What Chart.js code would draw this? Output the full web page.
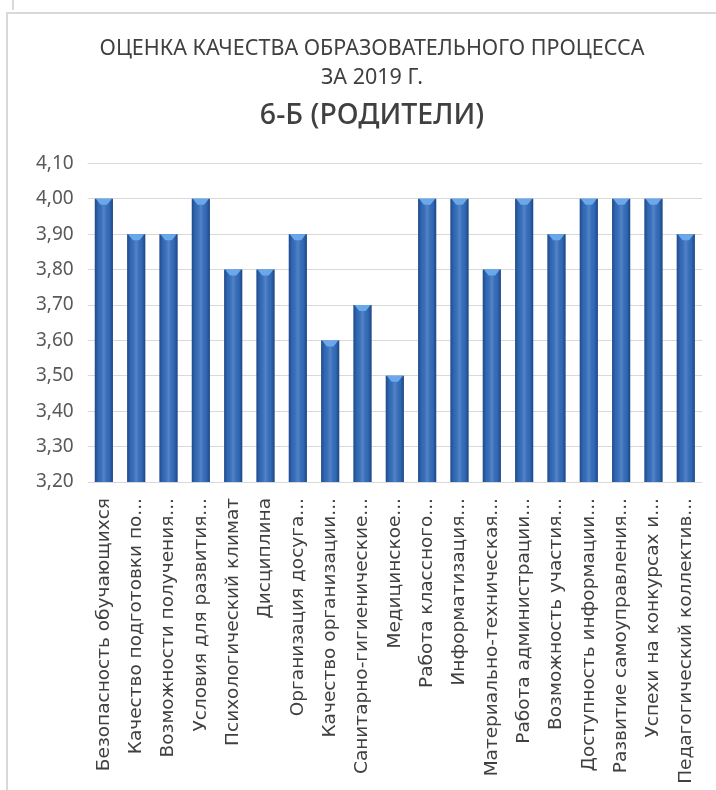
<!DOCTYPE html>
<html>
<head>
<meta charset="utf-8">
<script src="https://cdn.jsdelivr.net/npm/chart.js@4.4.1/dist/chart.umd.min.js"></script>
<style>
    html, body { margin: 0; padding: 0; background: #fff; }
    body { width: 716px; height: 790px; position: relative; overflow: hidden; }
    .prev { position: absolute; left: 12px; top: 0; width: 2px; height: 10px; background: #d9d9d9; }
    .card { position: absolute; left: 6px; top: 12px; right: 0; bottom: 0; border-top: 2px solid #d9d9d9; border-left: 2px solid #d9d9d9; }
    .wrap { position: absolute; left: 0; top: 0; width: 716px; height: 790px; }
</style>
</head>
<body>
<div class="prev"></div>
<div class="card"></div>
<div class="wrap"><canvas id="qualityChart"></canvas></div>
<script>
const categories = [
    'Безопасность обучающихся',
    'Качество подготовки по...',
    'Возможности получения...',
    'Условия для развития...',
    'Психологический климат',
    'Дисциплина',
    'Организация досуга...',
    'Качество организации...',
    'Санитарно-гигиенические...',
    'Медицинское...',
    'Работа классного...',
    'Информатизация...',
    'Материально-техническая...',
    'Работа администрации...',
    'Возможность участия...',
    'Доступность информации...',
    'Развитие самоуправления...',
    'Успехи на конкурсах и...',
    'Педагогический коллектив...'
];
const scores = [4.0, 3.9, 3.9, 4.0, 3.8, 3.8, 3.9, 3.6, 3.7, 3.5, 4.0, 4.0, 3.8, 4.0, 3.9, 4.0, 4.0, 4.0, 3.9];
const titleLines = ['ОЦЕНКА КАЧЕСТВА ОБРАЗОВАТЕЛЬНОГО ПРОЦЕССА', 'ЗА 2019 Г.'];
const subtitleText = '6-Б (РОДИТЕЛИ)';
const yMin = 3.2, yMax = 4.1, yStep = 0.1;

// shading for the 3d-looking excel bars
const bevelBars = {
    id: 'bevelBars',
    afterDatasetsDraw(chart) {
        const ctx = chart.ctx;
        const bottom = chart.chartArea.bottom;
        chart.getDatasetMeta(0).data.forEach(bar => {
            const { x, y, width } = bar.getProps(['x', 'y', 'width'], true);
            const left = x - width / 2, right = x + width / 2;
            const g = ctx.createLinearGradient(left, 0, right, 0);
            g.addColorStop(0, 'rgba(10,30,70,0.45)');
            g.addColorStop(0.2, 'rgba(10,30,70,0.05)');
            g.addColorStop(0.5, 'rgba(255,255,255,0.16)');
            g.addColorStop(0.8, 'rgba(10,30,70,0.05)');
            g.addColorStop(1, 'rgba(10,30,70,0.5)');
            ctx.save();
            ctx.fillStyle = g;
            ctx.fillRect(left, y, width, bottom - y);
            ctx.beginPath();
            ctx.moveTo(left + 1, y);
            ctx.lineTo(right - 1, y);
            ctx.lineTo(x + width * 0.18, y + 6);
            ctx.lineTo(x - width * 0.18, y + 6);
            ctx.closePath();
            ctx.fillStyle = '#6aa8ec';
            ctx.fill();
            ctx.restore();
        });
    }
};

new Chart(document.getElementById('qualityChart'), {
    type: 'bar',
    data: {
        labels: categories,
        datasets: [{
            data: scores,
            backgroundColor: '#336dbc',
            borderWidth: 0,
            barPercentage: 0.56,
            categoryPercentage: 1
        }]
    },
    options: {
        responsive: true,
        maintainAspectRatio: false,
        animation: false,
        layout: { padding: { left: 22, right: -6, top: 0, bottom: 0 } },
        plugins: {
            legend: { display: false },
            tooltip: { enabled: false },
            title: {
                display: true,
                text: titleLines,
                color: '#404040',
                font: { family: 'Noto Sans', size: 21.5, weight: 'normal', lineHeight: 1.36 },
                padding: { top: 34, bottom: 0 }
            },
            subtitle: {
                display: true,
                text: subtitleText,
                color: '#404040',
                font: { family: 'Noto Sans', size: 28.5, weight: '500', lineHeight: 1.05 },
                padding: { top: 8, bottom: 33 }
            }
        },
        scales: {
            x: {
                grid: { display: false },
                border: { display: false },
                ticks: {
                    color: '#404040',
                    font: { family: 'DejaVu Sans', size: 18.5 },
                    minRotation: 90,
                    maxRotation: 90,
                    autoSkip: false,
                    padding: 8
                },
                afterFit(scale) { scale.height = 308; }
            },
            y: {
                min: yMin,
                max: yMax,
                border: { display: false },
                grid: { color: '#d9d9d9', tickLength: 0, lineWidth: 1 },
                ticks: {
                    stepSize: yStep,
                    color: '#595959',
                    padding: 14,
                    font: { family: 'Noto Sans', size: 19 },
                    callback: v => v.toFixed(2).replace('.', ',')
                }
            }
        }
    },
    plugins: [bevelBars]
});
</script>
</body>
</html>
